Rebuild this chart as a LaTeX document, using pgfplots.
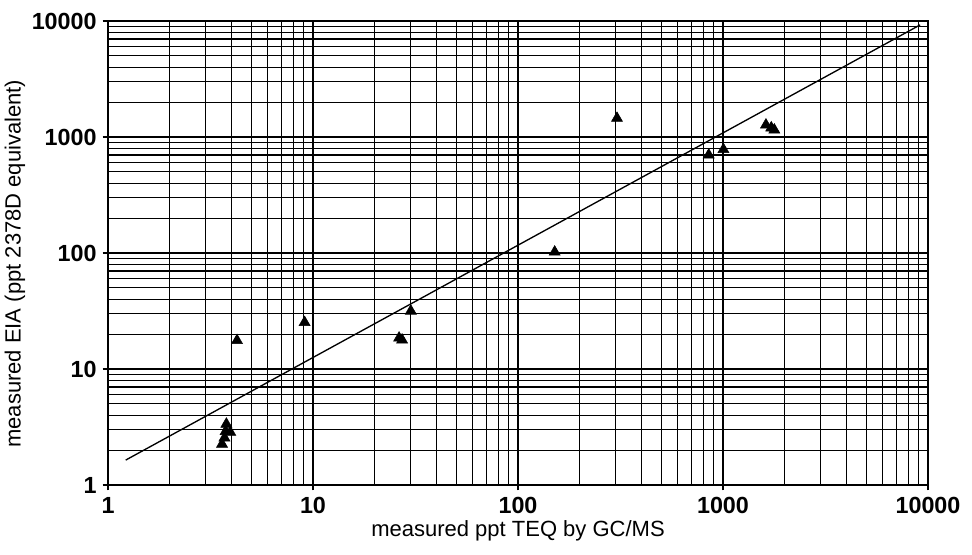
\documentclass[border=0pt]{standalone}
\usepackage{fontspec}
\setmainfont{Liberation Sans}
\usepackage{pgfplots}
\pgfplotsset{compat=1.18}

\begin{document}
\begin{tikzpicture}
\begin{axis}[
  scale only axis, width=615pt, height=348pt,
  xmode=log, ymode=log,
  xmin=1, xmax=10000, ymin=1, ymax=10000,
  xtick={1,10,100,1000,10000}, xticklabels={1,10,100,1000,10000},
  ytick={1,10,100,1000,10000}, yticklabels={1,10,100,1000,10000},
  grid=both,
  major grid style={black, line width=.85pt},
  minor grid style={black, line width=.85pt},
  axis line style={black, line width=.9pt},
  tick pos=left,
  tick align=outside, major tick length=4pt, minor tick length=0pt,
  tick style={black, line width=.9pt},
  ticklabel style={font=\fontsize{17.5}{19}\selectfont\bfseries},
  xticklabel style={yshift=-2pt},
  yticklabel style={xshift=-1pt},
  label style={font=\fontsize{16.5}{18}\selectfont},
  xlabel={measured ppt TEQ by GC/MS},
  ylabel={measured EIA (ppt 2378D equivalent)},
  xlabel style={yshift=2pt},
  ylabel style={yshift=-2pt, xshift=-8pt},
  clip=false,
]
% fitted line
\addplot[black, line width=1pt, mark=none] coordinates {(1.22,1.64) (9150,9250)};
% samples
\addplot[only marks, mark=triangle*, mark size=4.8pt, black] coordinates {
  (3.6,2.25) (3.7,2.55) (3.75,2.9) (3.78,3.35) (3.95,2.85)
  (4.26,17.6) (9.1,25.2)
  (26.3,18.5) (27.2,17.8) (30.0,31.6)
  (151,102) (304,1450)
  (852,700) (1005,780)
  (1620,1270) (1720,1200) (1780,1150)
};
\end{axis}
\path[use as bounding box] ([shift={(-81pt,-51.75pt)}]current axis.south west)
  rectangle ([shift={(33pt,15.75pt)}]current axis.north east);
\end{tikzpicture}
\end{document}
